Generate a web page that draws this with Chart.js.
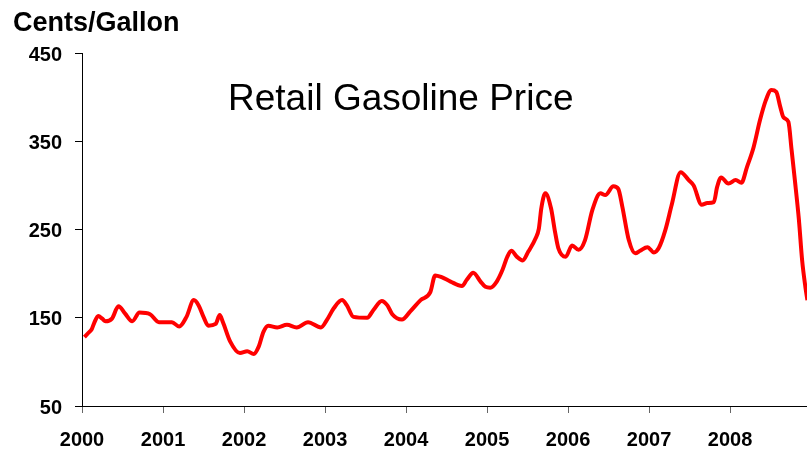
<!DOCTYPE html>
<html>
<head>
<meta charset="utf-8">
<script src="https://cdn.jsdelivr.net/npm/chart.js@4"></script>
<style>
  html, body { margin: 0; padding: 0; background: #fff; }
  #wrap { width: 807px; height: 452px; }
</style>
</head>
<body>
<div id="wrap"><canvas id="priceChart" width="807" height="452"></canvas></div>
<script>
// decimal year of each reading
const weeks = [
  2000.03, 2000.08, 2000.12, 2000.15, 2000.20, 2000.25, 2000.29, 2000.37, 2000.45, 2000.53,
  2000.62, 2000.71, 2000.84, 2000.95, 2001.11, 2001.20, 2001.29, 2001.38, 2001.44, 2001.50,
  2001.56, 2001.65, 2001.70, 2001.74, 2001.83, 2001.95, 2002.04, 2002.12, 2002.18, 2002.24,
  2002.30, 2002.41, 2002.53, 2002.65, 2002.79, 2002.95, 2003.02, 2003.11, 2003.21, 2003.27,
  2003.35, 2003.52, 2003.60, 2003.70, 2003.77, 2003.83, 2003.95, 2004.05, 2004.18, 2004.30,
  2004.36, 2004.44, 2004.55, 2004.69, 2004.75, 2004.83, 2004.92, 2004.98, 2005.04, 2005.12,
  2005.19, 2005.25, 2005.30, 2005.37, 2005.44, 2005.51, 2005.60, 2005.64, 2005.67, 2005.72,
  2005.79, 2005.84, 2005.88, 2005.97, 2006.05, 2006.13, 2006.21, 2006.30, 2006.40, 2006.46,
  2006.56, 2006.62, 2006.67, 2006.75, 2006.83, 2006.89, 2006.98, 2007.06, 2007.12, 2007.20,
  2007.28, 2007.39, 2007.49, 2007.55, 2007.65, 2007.72, 2007.80, 2007.84, 2007.89, 2007.98,
  2008.07, 2008.14, 2008.21, 2008.29, 2008.37, 2008.44, 2008.51, 2008.57, 2008.62, 2008.66,
  2008.72, 2008.76, 2008.80, 2008.85, 2008.89, 2008.93, 2008.955
];

// cents per gallon
const cents = [
  128, 133, 137, 144, 152, 149, 146, 149, 163, 155,
  146, 156, 154, 145, 145, 140, 151, 170, 164, 151,
  141, 143, 153, 145, 123, 110, 112, 109, 117, 134,
  141, 139, 142, 139, 145, 139, 147, 161, 170, 164,
  151, 150, 159, 169, 164, 154, 148, 157, 170, 179,
  198, 196, 191, 186, 193, 201, 191, 185, 184, 191,
  204, 219, 226, 219, 215, 225, 240, 251, 274, 291,
  274, 247, 229, 219, 232, 227, 238, 272, 291, 289,
  299, 296, 276, 238, 223, 226, 230, 224, 229, 249,
  278, 315, 306, 300, 278, 280, 281, 298, 309, 302,
  306, 303, 321, 343, 374, 396, 408, 406, 389, 377,
  372, 340, 306, 261, 215, 185, 170
];

const yearTicks = [2000, 2001, 2002, 2003, 2004, 2005, 2006, 2007, 2008];
const priceTicks = [50, 150, 250, 350, 450];

const points = weeks.map((w, i) => ({ x: w, y: cents[i] }));

const FONT = "'Liberation Sans', Arial, sans-serif";

const captions = {
  id: "captions",
  afterDraw(chart) {
    const ctx = chart.ctx;
    ctx.save();
    ctx.fillStyle = "#000";
    ctx.textBaseline = "alphabetic";
    ctx.textAlign = "left";
    ctx.font = "bold 27px " + FONT;
    ctx.fillText("Cents/Gallon", 13, 31);
    ctx.font = "37px " + FONT;
    ctx.fillText("Retail Gasoline Price", 228, 110);
    ctx.restore();
  }
};

new Chart(document.getElementById("priceChart"), {
  type: "line",
  data: {
    datasets: [{
      label: "Retail Gasoline Price",
      data: points,
      borderColor: "#ff0000",
      borderWidth: 4,
      pointRadius: 0,
      fill: false,
      cubicInterpolationMode: "monotone"
    }]
  },
  options: {
    responsive: false,
    animation: false,
    devicePixelRatio: 1,
    layout: { padding: { top: 53, right: 0, bottom: 0, left: 0 } },
    plugins: {
      legend: { display: false },
      tooltip: { enabled: false }
    },
    scales: {
      x: {
        type: "linear",
        min: yearTicks[0],
        max: 2008.95,
        afterFit: s => { s.height = 46; },
        afterBuildTicks: s => { s.ticks = yearTicks.map(v => ({ value: v })); },
        border: { color: "#000", width: 1 },
        grid: { drawOnChartArea: false, drawTicks: true, tickLength: 7, color: "#666" },
        ticks: {
          color: "#000",
          padding: 15,
          maxRotation: 0,
          font: { family: FONT, size: 20, weight: "bold" },
          callback: v => String(v)
        }
      },
      y: {
        min: priceTicks[0],
        max: priceTicks[priceTicks.length - 1],
        afterFit: s => { s.width = 82; },
        afterBuildTicks: s => { s.ticks = priceTicks.map(v => ({ value: v })); },
        border: { color: "#000", width: 1 },
        grid: { drawOnChartArea: false, drawTicks: true, tickLength: 7, color: "#000" },
        ticks: {
          color: "#000",
          padding: 13,
          labelOffset: 2,
          font: { family: FONT, size: 20, weight: "bold" }
        }
      }
    }
  },
  plugins: [captions]
});
</script>
</body>
</html>
